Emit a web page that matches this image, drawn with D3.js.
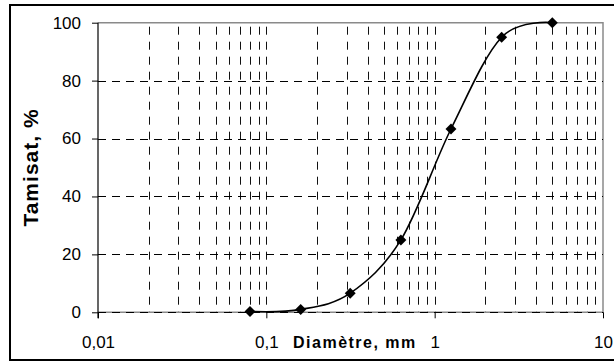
<!DOCTYPE html>
<html>
<head>
<meta charset="utf-8">
<script src="https://cdn.jsdelivr.net/npm/d3@7"></script>
<style>
  html, body { margin: 0; padding: 0; background: #fff; }
  svg { display: block; font-family: "Liberation Sans", Arial, sans-serif; }
</style>
</head>
<body>
<svg id="chart" width="614" height="362"></svg>
<script>
// Courbe granulométrique : tamisat cumulé en fonction du diamètre des tamis
const diametres = [0.08, 0.16, 0.315, 0.63, 1.25, 2.5, 5];
const tamisat = [0.3, 1.0, 6.6, 25, 63.3, 95, 100];
const xTickValues = [0.01, 0.1, 1, 10];
const xTickLabels = ["0,01", "0,1", "1", "10"];
const yTickValues = [0, 20, 40, 60, 80, 100];

const svg = d3.select("#chart");
const plot = { left: 98, right: 603, top: 22.7, bottom: 312.3 };

const x = d3.scaleLog().domain([0.01, 10]).range([plot.left, plot.right]);
const y = d3.scaleLinear().domain([0, 100]).range([plot.bottom, plot.top]);

// cadre extérieur
svg.append("rect")
  .attr("x", 10).attr("y", 5)
  .attr("width", 640).attr("height", 355)
  .attr("fill", "none").attr("stroke", "#000").attr("stroke-width", 2);

// graduations mineures du log (2..9 de chaque décade) + décades intérieures
const vGrid = [];
for (let e = -2; e < 1; e++) {
  for (let m = 1; m <= 9; m++) {
    const v = m * Math.pow(10, e);
    if (v > 0.01 && v < 10) vGrid.push(v);
  }
}
svg.append("g").selectAll("line").data(vGrid).join("line")
  .attr("x1", d => Math.round(x(d)) + 0.5).attr("x2", d => Math.round(x(d)) + 0.5)
  .attr("y1", plot.top).attr("y2", plot.bottom)
  .attr("stroke", "#111").attr("stroke-width", 1)
  .attr("stroke-dasharray", "8,7")
  .attr("stroke-dashoffset", 11);

// bordure grise de la zone de tracé
svg.append("path")
  .attr("d", `M${plot.left},${plot.top}H${plot.right}V${plot.bottom}H${plot.left}`)
  .attr("fill", "none").attr("stroke", "#8a8a8a").attr("stroke-width", 1.5);

// quadrillage horizontal pointillé
svg.append("g").selectAll("line").data(yTickValues.filter(v => v < 100)).join("line")
  .attr("x1", plot.left).attr("x2", plot.right)
  .attr("y1", d => Math.round(y(d)) + 0.5).attr("y2", d => Math.round(y(d)) + 0.5)
  .attr("stroke", "#000").attr("stroke-width", 1)
  .attr("stroke-dasharray", "8,6");

// axe des ordonnées
const yAxis = d3.axisLeft(y).tickValues(yTickValues).tickSize(6).tickPadding(11)
  .tickFormat(d3.format("d"));
const gy = svg.append("g").attr("transform", `translate(${plot.left},0)`).call(yAxis);
gy.select(".domain").attr("stroke", "#000").attr("stroke-width", 1.2)
  .attr("d", `M0,${plot.top}V${plot.bottom + 6}`);
gy.selectAll(".tick line").attr("stroke", "#000");
gy.selectAll(".tick text")
  .attr("font-size", 17).attr("fill", "#000")
  .attr("font-family", "Liberation Sans, Arial, sans-serif");

// axe des abscisses (logarithmique)
const xAxis = d3.axisBottom(x).tickValues(xTickValues).tickSize(6).tickPadding(0)
  .tickFormat((d, i) => xTickLabels[i]);
const gx = svg.append("g").attr("transform", `translate(0,${plot.bottom})`).call(xAxis);
gx.select(".domain").remove();
gx.selectAll(".tick line").attr("stroke", "#000");
gx.selectAll(".tick text")
  .attr("font-size", 17).attr("fill", "#000")
  .attr("dy", null).attr("y", 36)
  .attr("font-family", "Liberation Sans, Arial, sans-serif");

// titres des axes
svg.append("text")
  .attr("transform", "translate(37.5,167.5) rotate(-90)")
  .attr("text-anchor", "middle")
  .attr("font-size", 21).attr("font-weight", "bold")
  .attr("letter-spacing", 1)
  .text("Tamisat, %");

svg.append("text")
  .attr("x", 293).attr("y", 348)
  .attr("font-size", 16).attr("font-weight", "bold")
  .attr("letter-spacing", 1.5)
  .text("Diamètre, mm");

// courbe lissée
const pts = diametres.map((d, i) => [d, tamisat[i]]);
const line = d3.line()
  .x(d => x(d[0])).y(d => y(d[1]))
  .curve(d3.curveCardinal.tension(0));
svg.append("path")
  .attr("d", line(pts))
  .attr("fill", "none").attr("stroke", "#000").attr("stroke-width", 1.6);

// marqueurs en losange
svg.append("g").selectAll("path").data(pts).join("path")
  .attr("d", d3.symbol(d3.symbolSquare, 60)())
  .attr("transform", d => `translate(${x(d[0])},${y(d[1])}) rotate(45)`)
  .attr("fill", "#000");
</script>
</body>
</html>
